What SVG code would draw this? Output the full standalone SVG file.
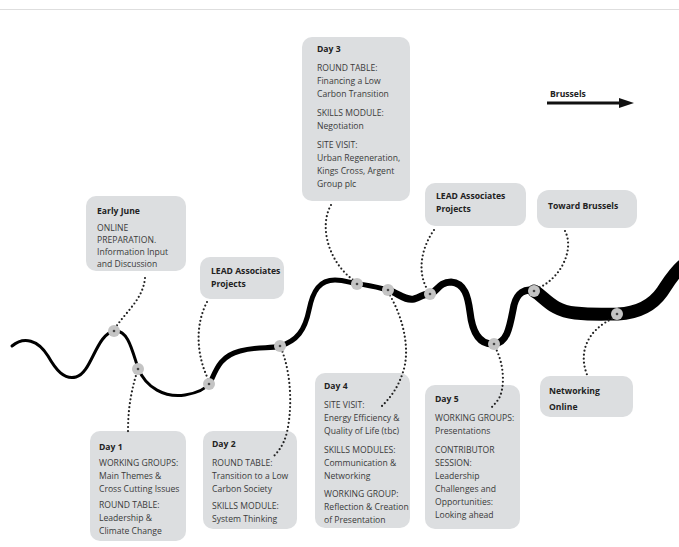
<svg xmlns="http://www.w3.org/2000/svg" width="679" height="547" viewBox="0 0 679 547">
<style>
.box{fill:#dcdee0;}
.t{font-family:"Open Sans","Noto Sans",sans-serif;font-size:8.6px;fill:#3a3a3a;}
.b{font-weight:bold;fill:#222;}
.dot{fill:none;stroke:#222;stroke-width:2.2;stroke-dasharray:0 4;stroke-linecap:round;}
.riv{fill:none;stroke:#000;stroke-linecap:round;stroke-linejoin:round;}
.nd{fill:#c4c4c4;}
.nc{fill:#444;}
</style>
<defs>
<g id="node"><circle class="nd" r="6"/><circle class="nc" r="1.3"/></g>
</defs>
<rect width="679" height="547" fill="#fff"/>
<line x1="0" y1="9.5" x2="679" y2="9.5" stroke="#dedede" stroke-width="1"/>

<g id="river">
<path class="riv" stroke-width="3" d="M12,346 C24,336 38,340 48,356 C56,370 64,380 76,377 C92,373 96,333 115,331 C128,330 132,350 138,368 C146,388 165,398 185,395 C197,393 205,390 210,383"/>
<path class="riv" stroke-width="5" d="M210,383 C216,370 220,356 240,351 C258,346 270,349 280,346 C297,341 305,330 309,310 C313,290 320,280 335,280 C345,280 350,283 358,284 C370,285 380,288 388,290"/>
<path class="riv" stroke-width="7" d="M388,290 C398,293 405,301 414,299 C422,297 424,293 430,294 C437,292 439,282 451,282 C465,283 468,297 470,312 C472,330 478,345 494,344 C508,343 510,325 514,305 C517,293 525,288 534,291"/>
<path class="riv" stroke-width="13" d="M534,291 C545,297 552,311 575,313 C595,315 605,314 618,314 C638,313 652,306 662,292 C668,283 673,274 682,266"/>
</g>

<g id="early-june">
<rect class="box" x="86" y="196" width="100" height="75" rx="10"/>
<text class="t b" x="97" y="214">Early June</text>
<text class="t" x="97" y="231">ONLINE</text>
<text class="t" x="97" y="243">PREPARATION.</text>
<text class="t" x="97" y="255">Information Input</text>
<text class="t" x="97" y="267">and Discussion</text>
</g>

<g id="lead1">
<rect class="box" x="200" y="257" width="84" height="42" rx="10"/>
<text class="t b" x="211" y="274">LEAD Associates</text>
<text class="t b" x="211" y="287">Projects</text>
</g>

<g id="day3">
<rect class="box" x="302" y="37" width="108" height="164" rx="10"/>
<text class="t b" x="317" y="52">Day 3</text>
<text class="t" x="317" y="71">ROUND TABLE:</text>
<text class="t" x="317" y="84">Financing a Low</text>
<text class="t" x="317" y="97">Carbon Transition</text>
<text class="t" x="317" y="116">SKILLS MODULE:</text>
<text class="t" x="317" y="129">Negotiation</text>
<text class="t" x="317" y="148">SITE VISIT:</text>
<text class="t" x="317" y="161">Urban Regeneration,</text>
<text class="t" x="317" y="174">Kings Cross, Argent</text>
<text class="t" x="317" y="187">Group plc</text>
</g>

<g id="lead2">
<rect class="box" x="425" y="183" width="101" height="43" rx="10"/>
<text class="t b" x="436" y="199">LEAD Associates</text>
<text class="t b" x="436" y="212">Projects</text>
</g>

<g id="toward-brussels">
<rect class="box" x="537" y="190" width="100" height="38" rx="12"/>
<text class="t b" x="548" y="209">Toward Brussels</text>
</g>

<g id="brussels">
<text class="t b" x="550" y="97" font-size="8">Brussels</text>
<line x1="547" y1="103" x2="622" y2="103" stroke="#111" stroke-width="3"/>
<polygon points="619,98 634,103 619,108" fill="#111"/>
</g>

<g id="day1">
<rect class="box" x="90" y="431" width="96" height="110" rx="10"/>
<text class="t b" x="99" y="450">Day 1</text>
<text class="t" x="99" y="466">WORKING GROUPS:</text>
<text class="t" x="99" y="479">Main Themes &amp;</text>
<text class="t" x="99" y="492">Cross Cutting Issues</text>
<text class="t" x="99" y="508">ROUND TABLE:</text>
<text class="t" x="99" y="521">Leadership &amp;</text>
<text class="t" x="99" y="534">Climate Change</text>
</g>

<g id="day2">
<rect class="box" x="203" y="431" width="94" height="98" rx="10"/>
<text class="t b" x="212" y="447">Day 2</text>
<text class="t" x="212" y="466">ROUND TABLE:</text>
<text class="t" x="212" y="479">Transition to a Low</text>
<text class="t" x="212" y="492">Carbon Society</text>
<text class="t" x="212" y="509">SKILLS MODULE:</text>
<text class="t" x="212" y="522">System Thinking</text>
</g>

<g id="day4">
<rect class="box" x="315" y="373" width="95" height="155" rx="10"/>
<text class="t b" x="324" y="389">Day 4</text>
<text class="t" x="324" y="408">SITE VISIT:</text>
<text class="t" x="324" y="421">Energy Efficiency &amp;</text>
<text class="t" x="324" y="434">Quality of Life (tbc)</text>
<text class="t" x="324" y="453">SKILLS MODULES:</text>
<text class="t" x="324" y="466">Communication &amp;</text>
<text class="t" x="324" y="479">Networking</text>
<text class="t" x="324" y="497">WORKING GROUP:</text>
<text class="t" x="324" y="510">Reflection &amp; Creation</text>
<text class="t" x="324" y="523">of Presentation</text>
</g>

<g id="day5">
<rect class="box" x="425" y="385" width="95" height="144" rx="10"/>
<text class="t b" x="435" y="402">Day 5</text>
<text class="t" x="435" y="421">WORKING GROUPS:</text>
<text class="t" x="435" y="434">Presentations</text>
<text class="t" x="435" y="453">CONTRIBUTOR</text>
<text class="t" x="435" y="466">SESSION:</text>
<text class="t" x="435" y="479">Leadership</text>
<text class="t" x="435" y="492">Challenges and</text>
<text class="t" x="435" y="505">Opportunities:</text>
<text class="t" x="435" y="518">Looking ahead</text>
</g>

<g id="networking-online">
<rect class="box" x="540" y="376" width="93" height="41" rx="10"/>
<text class="t b" x="549" y="394">Networking</text>
<text class="t b" x="549" y="410">Online</text>
</g>

<g id="connectors">
<path class="dot" d="M145,278 C143,300 125,312 114,330"/>
<path class="dot" d="M137,372 C130,395 128,412 128,432"/>
<path class="dot" d="M207,302 C195,325 196,355 209,381"/>
<path class="dot" d="M281,348 C292,375 292,410 287,432 C284,445 278,452 272,458"/>
<path class="dot" d="M331,205 C318,228 330,265 356,282"/>
<path class="dot" d="M388,292 C405,320 410,352 403,372 C398,388 390,398 382,406"/>
<path class="dot" d="M434,230 C420,250 417,275 429,292"/>
<path class="dot" d="M495,347 C505,365 505,390 498,400 C494,405 492,407 490,409"/>
<path class="dot" d="M565,231 C575,250 560,280 536,289"/>
<path class="dot" d="M616,317 C585,330 578,355 588,377"/>
</g>

<g id="nodes">
<use href="#node" x="114" y="331"/>
<use href="#node" x="138" y="369"/>
<use href="#node" x="209" y="384"/>
<use href="#node" x="280" y="346"/>
<use href="#node" x="357" y="284"/>
<use href="#node" x="388" y="290"/>
<use href="#node" x="430" y="294"/>
<use href="#node" x="494" y="344"/>
<use href="#node" x="534" y="291"/>
<use href="#node" x="617" y="314"/>
</g>
</svg>
